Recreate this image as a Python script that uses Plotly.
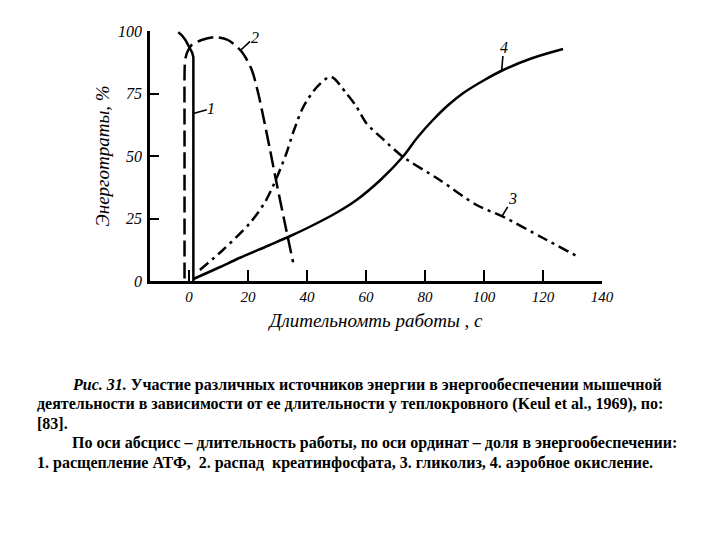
import plotly.graph_objects as go

# ---- data ----
# 1. ATP splitting
atp_x = [-3.6, -2.4, -1.2, 0.2, 1.1, 1.5, 1.5]
atp_y = [99.5, 98.3, 96.4, 93.5, 91.3, 89.5, 0]
# 2. creatine phosphate
crp_x = [-1.5, -1.5, -1.5, -1.5, -1.4, -1.1, -0.4, 0.9, 4.3, 8.8, 13.2, 17.9, 21.3, 23.5, 25.2, 27.5, 29.7, 32.5, 35.3]
crp_y = [1.0, 30.0, 60.0, 82.0, 86.5, 89.5, 92.0, 94.4, 96.4, 97.5, 96.4, 91.7, 84.4, 75.0, 65.7, 52.4, 39.2, 23.2, 7.5]
# 3. glycolysis
gly_x = [3.7, 11.5, 20.7, 26.0, 30.0, 33.0, 35.5, 38.7, 43.3, 48.1, 53.4, 56.8, 60.2, 66.0, 72.5, 85.0, 97.5, 106.5, 120.0, 131.9]
gly_y = [4.4, 12.4, 23.2, 32.0, 42.0, 51.0, 60.0, 69.5, 77.5, 81.7, 75.0, 69.7, 63.0, 56.5, 49.7, 40.4, 30.4, 25.7, 17.2, 9.7]
# 4. aerobic oxidation
aer_x = [1.5, 10.0, 17.3, 27.0, 34.2, 41.0, 50.0, 56.8, 65.0, 72.5, 77.5, 82.7, 88.0, 93.0, 100.0, 106.5, 116.0, 126.8]
aer_y = [0.8, 5.3, 9.3, 14.2, 17.9, 21.7, 27.3, 32.4, 40.5, 49.7, 57.5, 64.4, 70.5, 75.2, 80.3, 84.4, 89.0, 92.8]

x_ticks = [0, 20, 40, 60, 80, 100, 120, 140]
y_ticks = [0, 25, 50, 75, 100]

# curve labels: text, anchor point on curve (x, y)
curve_labels = ["1", "2", "3", "4"]
label_pts_x = [1.5, 17.5, 106.0, 106.0]
label_pts_y = [67.0, 92.3, 25.7, 84.4]

caption_lines = [
    "<b><i>Рис. 31.</i> Участие различных источников энергии в энергообеспечении мышечной</b>",
    "<b>деятельности в зависимости от ее длительности у теплокровного (Keul et al., 1969), по:</b>",
    "<b>[83].</b>",
    "<b>По оси абсцисс – длительность работы, по оси ординат – доля в энергообеспечении:</b>",
    "<b>1. расщепление АТФ,  2. распад  креатинфосфата, 3. гликолиз, 4. аэробное окисление.</b>",
]

# ---- layout geometry (pixels) ----
L, R, T, B = 150, 602, 31, 281
W, H = 720, 540


def pxx(px):
    return (px - L) / (R - L)


def pxy(py):
    return (B - py) / (B - T)


serif = "Liberation Serif"
line_w = 2.5

fig = go.Figure()
fig.add_trace(go.Scatter(x=atp_x, y=atp_y, mode="lines",
                         line=dict(color="black", width=line_w), hoverinfo="skip"))
fig.add_trace(go.Scatter(x=crp_x, y=crp_y, mode="lines", line_shape="spline",
                         line=dict(color="black", width=line_w, dash="16px,6px", smoothing=0.8),
                         hoverinfo="skip"))
fig.add_trace(go.Scatter(x=gly_x, y=gly_y, mode="lines", line_shape="spline",
                         line=dict(color="black", width=line_w, dash="11px,5px,3px,5px", smoothing=0.8),
                         hoverinfo="skip"))
fig.add_trace(go.Scatter(x=aer_x, y=aer_y, mode="lines", line_shape="spline",
                         line=dict(color="black", width=line_w, smoothing=1.0), hoverinfo="skip"))

offsets = [(18, -5), (14, -13), (11, -18), (2, -23)]
for t, lx, ly, (ax, ay) in zip(curve_labels, label_pts_x, label_pts_y, offsets):
    fig.add_annotation(x=lx, y=ly, xref="x", yref="y", text=t, showarrow=True,
                       arrowhead=0, arrowwidth=1.6, arrowcolor="black", ax=ax, ay=ay,
                       standoff=0, borderpad=0,
                       font=dict(family=serif, size=16, color="black", style="italic"))

caption_pos = [(70, 385), (35, 404), (35, 423), (70, 443), (35, 463)]
for txt, (px, py) in zip(caption_lines, caption_pos):
    fig.add_annotation(x=pxx(px), y=pxy(py), xref="paper", yref="paper", text=txt,
                       showarrow=False, xanchor="left", yanchor="middle",
                       font=dict(family=serif, size=16, color="black"))

fig.update_layout(
    width=W, height=H,
    margin=dict(l=L, r=W - R, t=T, b=H - B, autoexpand=False),
    paper_bgcolor="white", plot_bgcolor="white",
    showlegend=False,
    font=dict(family=serif, color="black"),
    xaxis=dict(range=[-13.2, 140], tickvals=x_ticks, ticktext=[str(v) for v in x_ticks],
               showline=True, linewidth=2.5, linecolor="black",
               ticks="inside", ticklen=11, tickwidth=2, tickcolor="black",
               showgrid=False, zeroline=False, ticklabelstandoff=0,
               tickfont=dict(family=serif, size=15, color="black", style="italic"),
               title=dict(text="Длительномть работы , с", standoff=10,
                          font=dict(family=serif, size=19, color="black", style="italic"))),
    yaxis=dict(range=[0, 100], tickvals=y_ticks, ticktext=[str(v) for v in y_ticks],
               showline=True, linewidth=2.5, linecolor="black",
               ticks="inside", ticklen=9, tickwidth=2, tickcolor="black",
               showgrid=False, zeroline=False, ticklabelstandoff=2,
               tickfont=dict(family=serif, size=16, color="black", style="italic"),
               title=dict(text="Энерготраты, %", standoff=4,
                          font=dict(family=serif, size=19, color="black", style="italic"))),
)

fig.write_html("out.html")
